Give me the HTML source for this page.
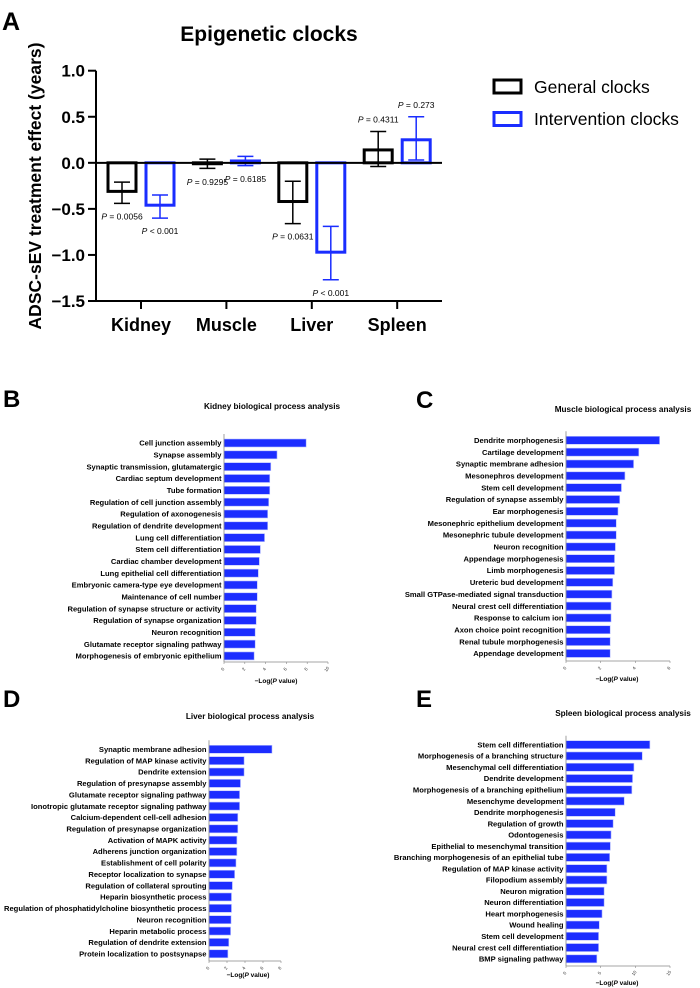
<!DOCTYPE html>
<html><head><meta charset="utf-8"><style>
html,body{margin:0;padding:0;background:#fff;}
svg{display:block;font-family:"Liberation Sans",Arial,sans-serif;}
</style></head><body>
<svg id="fig" width="700" height="988" viewBox="0 0 700 988" xmlns="http://www.w3.org/2000/svg">
<g id="pa"></g>
<g id="pb"></g>
<g id="pc"></g>
<g id="pd"></g>
<g id="pe"></g>
</svg>
<script>
// ===== Panel A data =====
const aCategories = ["Kidney","Muscle","Liver","Spleen"];
const aGeneral = [-0.31, -0.01, -0.42, 0.14];
const aGeneralHi = [-0.21, 0.04, -0.20, 0.34];
const aGeneralLo = [-0.44, -0.06, -0.66, -0.04];
const aInterv = [-0.46, 0.02, -0.97, 0.25];
const aIntervHi = [-0.35, 0.07, -0.69, 0.50];
const aIntervLo = [-0.60, -0.03, -1.27, 0.03];
const aGeneralP = ["P = 0.0056","P = 0.9295","P = 0.0631","P = 0.4311"];
const aIntervP = ["P < 0.001","P = 0.6185","P < 0.001","P = 0.273"];
const aYTicks = [1.0, 0.5, 0.0, -0.5, -1.0, -1.5];
const aYTickLabels = ["1.0","0.5","0.0","\u22120.5","\u22121.0","\u22121.5"];

// ===== Panel B data =====
const bTerms = ["Cell junction assembly","Synapse assembly","Synaptic transmission, glutamatergic","Cardiac septum development","Tube formation","Regulation of cell junction assembly","Regulation of axonogenesis","Regulation of dendrite development","Lung cell differentiation","Stem cell differentiation","Cardiac chamber development","Lung epithelial cell differentiation","Embryonic camera-type eye development","Maintenance of cell number","Regulation of synapse structure or activity","Regulation of synapse organization","Neuron recognition","Glutamate receptor signaling pathway","Morphogenesis of embryonic epithelium"];
const bValues = [7.9,5.1,4.5,4.4,4.4,4.3,4.2,4.2,3.9,3.5,3.4,3.3,3.2,3.2,3.1,3.1,3.0,3.0,2.9];
const bTicks = [0,2,4,6,8,10];

// ===== Panel C data =====
const cTerms = ["Dendrite morphogenesis","Cartilage development","Synaptic membrane adhesion","Mesonephros development","Stem cell development","Regulation of synapse assembly","Ear morphogenesis","Mesonephric epithelium development","Mesonephric tubule development","Neuron recognition","Appendage morphogenesis","Limb morphogenesis","Ureteric bud development","Small GTPase-mediated signal transduction","Neural crest cell differentiation","Response to calcium ion","Axon choice point recognition","Renal tubule morphogenesis","Appendage development"];
const cValues = [5.4,4.2,3.9,3.4,3.2,3.1,3.0,2.9,2.9,2.85,2.8,2.8,2.7,2.65,2.6,2.6,2.55,2.55,2.55];
const cTicks = [0,2,4,6];

// ===== Panel D data =====
const dTerms = ["Synaptic membrane adhesion","Regulation of MAP kinase activity","Dendrite extension","Regulation of presynapse assembly","Glutamate receptor signaling pathway","Ionotropic glutamate receptor signaling pathway","Calcium-dependent cell-cell adhesion","Regulation of presynapse organization","Activation of MAPK activity","Adherens junction organization","Establishment of cell polarity","Receptor localization to synapse","Regulation of collateral sprouting","Heparin biosynthetic process","Regulation of phosphatidylcholine biosynthetic process","Neuron recognition","Heparin metabolic process","Regulation of dendrite extension","Protein localization to postsynapse"];
const dValues = [7.0,3.9,3.9,3.5,3.4,3.4,3.2,3.2,3.1,3.1,3.0,2.85,2.6,2.5,2.5,2.45,2.4,2.2,2.1];
const dTicks = [0,2,4,6,8];

// ===== Panel E data =====
const eTerms = ["Stem cell differentiation","Morphogenesis of a branching structure","Mesenchymal cell differentiation","Dendrite development","Morphogenesis of a branching epithelium","Mesenchyme development","Dendrite morphogenesis","Regulation of growth","Odontogenesis","Epithelial to mesenchymal transition","Branching morphogenesis of an epithelial tube","Regulation of MAP kinase activity","Filopodium assembly","Neuron migration","Neuron differentiation","Heart morphogenesis","Wound healing","Stem cell development","Neural crest cell differentiation","BMP signaling pathway"];
const eValues = [12.1,11.0,9.8,9.6,9.5,8.4,7.1,6.8,6.5,6.4,6.3,5.9,5.9,5.5,5.5,5.2,4.8,4.7,4.7,4.45];
const eTicks = [0,5,10,15];

const NS = "http://www.w3.org/2000/svg";
function mk(parent, tag, attrs, text){
  const e = document.createElementNS(NS, tag);
  for (const k in attrs) e.setAttribute(k, attrs[k]);
  if (text !== undefined) e.textContent = text;
  parent.appendChild(e);
  return e;
}

// ===== Panel A =====
(function(){
  const g = document.getElementById('pa');
  const x0 = 96, x1 = 442, yTop = 70.7, yBot = 301;
  const vMax = 1.0, vMin = -1.5;
  const yS = v => yTop + (vMax - v) / (vMax - vMin) * (yBot - yTop);
  const catX = i => 141 + i * 85.4;
  const bw = 28, off = 19;

  let t = mk(g,'text',{x:2,y:30,'font-size':25,'font-weight':'bold'},'A');
   
  t = mk(g,'text',{x:269,y:41,'font-size':21,'font-weight':'bold','text-anchor':'middle'},'Epigenetic clocks');
   
  t = mk(g,'text',{x:0,y:0,'font-size':17.5,'font-weight':'bold','text-anchor':'middle',transform:'translate(41,186) rotate(-90)'},'ADSC-sEV treatment effect (years)');
   

  let l = mk(g,'line',{x1:x0,y1:yTop,x2:x0,y2:yBot+1,stroke:'#000','stroke-width':2});
   
  aYTicks.forEach((v,i)=>{
    const y = yS(v);
    const tk = mk(g,'line',{x1:x0-8,y1:y,x2:x0,y2:y,stroke:'#000','stroke-width':2});
     
    const tl = mk(g,'text',{x:x0-11,y:y+6,'font-size':17,'font-weight':'bold','text-anchor':'end'},aYTickLabels[i]);
     
  });
  l = mk(g,'line',{x1:x0,y1:yBot,x2:x1,y2:yBot,stroke:'#000','stroke-width':2});
   

  function bar(i, v, hi, lo, color, dx, p, name, plabelY){
    const cx = catX(i) + dx;
    const y0 = yS(0), yv = yS(v);
    const r = mk(g,'rect',{x:cx-bw/2,y:Math.min(y0,yv),width:bw,height:Math.max(Math.abs(yv-y0),0.5),fill:'none',stroke:color,'stroke-width':3});
     
    const eb = mk(g,'path',{d:`M${cx},${yS(hi)}V${yS(lo)}M${cx-8},${yS(hi)}H${cx+8}M${cx-8},${yS(lo)}H${cx+8}`,stroke:color,'stroke-width':1.5,fill:'none'});
     
    const pt = mk(g,'text',{x:cx,y:plabelY,'font-size':8.5,'text-anchor':'middle',fill:'#000'});
     
    const parts = p.split(' ');
    mk(pt,'tspan',{'font-style':'italic'},parts[0]);
    mk(pt,'tspan',{},' '+parts.slice(1).join(' '));
  }
  aCategories.forEach((c,i)=>{
    const gLo = Math.min(aGeneralLo[i], aGeneral[i], 0), gHi = Math.max(aGeneralHi[i], aGeneral[i], 0);
    const iLo = Math.min(aIntervLo[i], aInterv[i], 0), iHi = Math.max(aIntervHi[i], aInterv[i], 0);
    const gy = aGeneral[i] < 0 && aGeneralHi[i] < 0 ? yS(gLo)+16 : (aGeneral[i] >= 0.05 ? yS(gHi)-9 : yS(gLo)+16);
    const iy = aInterv[i] < 0 && aIntervHi[i] < 0 ? yS(iLo)+16 : (aInterv[i] >= 0.05 ? yS(iHi)-9 : yS(0)+19);
    let gy2 = gy;
    if (Math.abs(aGeneral[i]) < 0.05) gy2 = yS(0)+22;
    bar(i, aGeneral[i], aGeneralHi[i], aGeneralLo[i], '#000', -off, aGeneralP[i], 'general-bar-'+c.toLowerCase(), gy2);
    bar(i, aInterv[i], aIntervHi[i], aIntervLo[i], '#1a2dff', off, aIntervP[i], 'intervention-bar-'+c.toLowerCase(), iy);
    const tk = mk(g,'line',{x1:catX(i),y1:yBot,x2:catX(i),y2:yBot+8,stroke:'#000','stroke-width':2});
     
    const tl = mk(g,'text',{x:catX(i),y:331,'font-size':18,'font-weight':'bold','text-anchor':'middle'},c);
     
  });
  l = mk(g,'line',{x1:x0,y1:yS(0),x2:x1,y2:yS(0),stroke:'#000','stroke-width':2});
   

  let r = mk(g,'rect',{x:494,y:80,width:27,height:13,fill:'none',stroke:'#000','stroke-width':3});
   
  t = mk(g,'text',{x:534,y:93,'font-size':17.5},'General clocks');
   
  r = mk(g,'rect',{x:494,y:112.5,width:27,height:13,fill:'none',stroke:'#1a2dff','stroke-width':3});
   
  t = mk(g,'text',{x:534,y:125,'font-size':17.5},'Intervention clocks');
   
})();

// ===== Horizontal bar panels =====
function hbar(gid, cfg, terms, values, ticks){
  const g = document.getElementById(gid);
  const {letter, lx, ly, title, tx, ty, ax, axEnd, y0, step, yAxBot, xlabX, xlabY, key} = cfg;
  const tMax = ticks[ticks.length-1];
  const xS = v => ax + v / tMax * (axEnd - ax);
  let t = mk(g,'text',{x:lx,y:ly,'font-size':24,'font-weight':'bold'},letter);
   
  t = mk(g,'text',{x:tx,y:ty,'font-size':8.2,'font-weight':'bold','text-anchor':'middle'},title);
   
  terms.forEach((term,i)=>{
    const cy = y0 + i*step;
    const r = mk(g,'rect',{x:ax,y:cy-4,width:xS(values[i])-ax,height:8,fill:'#1c2dff',stroke:'#b8c0ff','stroke-width':0.6});
     
    const lb = mk(g,'text',{x:ax-2.5,y:cy+2.7,'font-size':7.6,'font-weight':'bold','text-anchor':'end'},term);
     
  });
  let l = mk(g,'line',{x1:ax,y1:y0-9,x2:ax,y2:yAxBot,stroke:'#888','stroke-width':0.8});
   
  l = mk(g,'line',{x1:ax,y1:yAxBot,x2:axEnd,y2:yAxBot,stroke:'#888','stroke-width':0.8});
   
  ticks.forEach(v=>{
    const x = xS(v);
    const tk = mk(g,'line',{x1:x,y1:yAxBot,x2:x,y2:yAxBot+2,stroke:'#888','stroke-width':0.6});
     
    const tl = mk(g,'text',{x:0,y:0,'font-size':4.5,'text-anchor':'middle',fill:'#333',transform:`translate(${x},${yAxBot+8}) rotate(-55)`},String(v));
     
  });
  t = mk(g,'text',{x:xlabX,y:xlabY,'font-size':6.5,'font-weight':'bold','text-anchor':'middle'});
   
  mk(t,'tspan',{},'\u2212Log(');
  mk(t,'tspan',{'font-style':'italic'},'P');
  mk(t,'tspan',{},' value)');
}
hbar('pb',{letter:'B',lx:3,ly:407,title:'Kidney biological process analysis',tx:272,ty:409,ax:224,axEnd:328,y0:443,step:11.83,yAxBot:662,xlabX:276,xlabY:683,key:'kidney'},bTerms,bValues,bTicks);
hbar('pc',{letter:'C',lx:416,ly:408,title:'Muscle biological process analysis',tx:623,ty:412,ax:566,axEnd:670,y0:440.3,step:11.84,yAxBot:661,xlabX:617,xlabY:681,key:'muscle'},cTerms,cValues,cTicks);
hbar('pd',{letter:'D',lx:3,ly:707,title:'Liver biological process analysis',tx:250,ty:719,ax:209,axEnd:281,y0:749.3,step:11.36,yAxBot:961,xlabX:248,xlabY:977,key:'liver'},dTerms,dValues,dTicks);
hbar('pe',{letter:'E',lx:416,ly:707,title:'Spleen biological process analysis',tx:623,ty:716,ax:566,axEnd:670,y0:744.7,step:11.27,yAxBot:966,xlabX:617,xlabY:985,key:'spleen'},eTerms,eValues,eTicks);
</script>
</body></html>
